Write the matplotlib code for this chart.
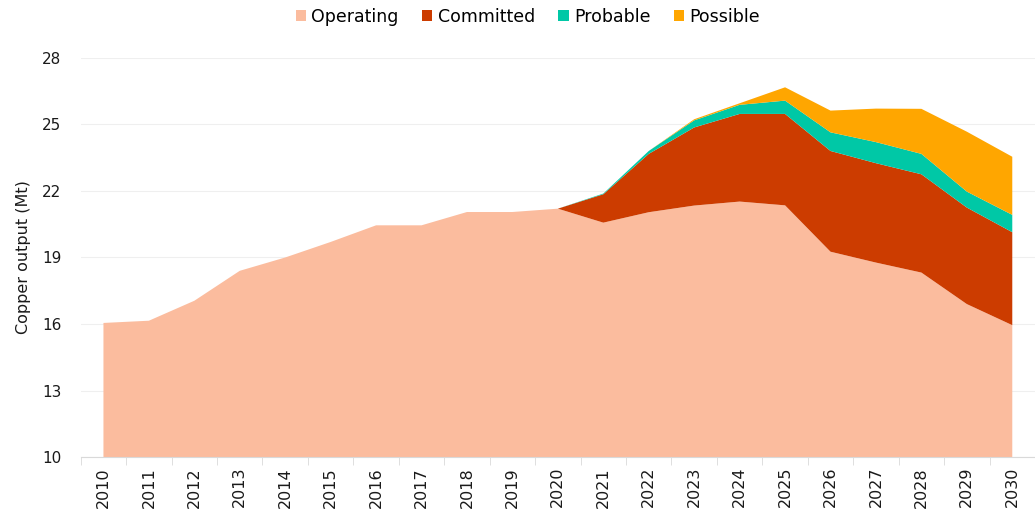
import matplotlib
matplotlib.use("Agg")
import matplotlib.pyplot as plt
import numpy as np
from matplotlib.patches import Patch

years = [str(y) for y in range(2010, 2031)]
operating = [16.05, 16.15, 17.05, 18.4, 19.0, 19.7, 20.45, 20.45, 21.05, 21.05, 21.2,
             20.57, 21.04, 21.34, 21.52, 21.35, 19.26, 18.77, 18.32, 16.9, 15.95]
committed = [0, 0, 0, 0, 0, 0, 0, 0, 0, 0, 0,
             1.28, 2.63, 3.52, 3.95, 4.12, 4.54, 4.48, 4.43, 4.35, 4.19]
probable = [0, 0, 0, 0, 0, 0, 0, 0, 0, 0, 0,
            0.03, 0.13, 0.32, 0.41, 0.6, 0.84, 0.95, 0.92, 0.72, 0.78]
possible = [0, 0, 0, 0, 0, 0, 0, 0, 0, 0, 0,
            0, 0, 0.05, 0.07, 0.6, 0.98, 1.51, 2.03, 2.7, 2.62]
series_names = ["Operating", "Committed", "Probable", "Possible"]
colors = ["#FBBC9E", "#CC3C00", "#00C8A6", "#FFA600"]

plt.rcParams['font.family'] = ['DejaVu Sans']

fig = plt.figure(figsize=(10.35, 5.16), dpi=100)
ax = fig.add_axes([0.078, 0.114, 0.922, 0.774])

x = np.arange(len(years))
ax.stackplot(x, operating, committed, probable, possible, colors=colors, linewidth=0)

ax.set_ylim(10, 28)
ax.set_yticks([10, 13, 16, 19, 22, 25, 28])
ax.set_xlim(-0.5, 20.35)
ax.set_xticks(x)
ax.set_xticklabels(years, rotation=90, fontsize=11.5, color="#1a1a1a")
ax.set_xticks(np.arange(-0.5, 20.6, 1), minor=True)
ax.tick_params(axis='x', which='major', length=0, pad=7)
ax.tick_params(axis='x', which='minor', length=6, color="#D9D9D9")
ax.tick_params(axis='y', length=0, labelsize=11, labelcolor="#1a1a1a", pad=14)
ax.grid(axis='y', color="#EFEFEF", linewidth=0.8)
ax.set_axisbelow(True)
for s in ["top", "right", "left"]:
    ax.spines[s].set_visible(False)
ax.spines["bottom"].set_color("#D9D9D9")
ax.set_ylabel("Copper output (Mt)", fontsize=11.5, color="#1a1a1a")
ax.yaxis.set_label_coords(-0.052, 0.5)

handles = [Patch(facecolor=c, edgecolor='none') for c in colors]
fig.legend(handles, series_names, loc="upper center", bbox_to_anchor=(0.51, 1.015), ncol=4,
           frameon=False, fontsize=12.5, handlelength=0.6, handleheight=0.6,
           handletextpad=0.3, columnspacing=1.35)

fig.savefig("out.png", dpi=100)
